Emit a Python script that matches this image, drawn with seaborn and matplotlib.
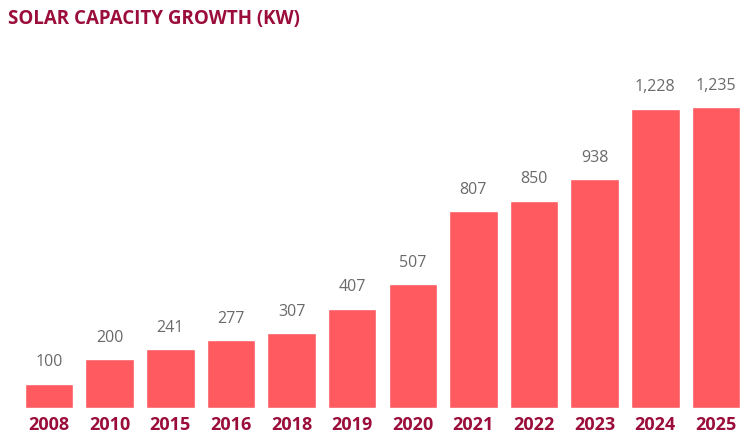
import matplotlib
matplotlib.use("Agg")
import matplotlib.pyplot as plt
import seaborn as sns
import pandas as pd

years = ["2008", "2010", "2015", "2016", "2018", "2019", "2020", "2021", "2022", "2023", "2024", "2025"]
capacity = [100, 200, 241, 277, 307, 407, 507, 807, 850, 938, 1228, 1235]

df = pd.DataFrame({"year": years, "kw": capacity})

sns.set_style("white")
plt.rcParams['font.family'] = ['Open Sans', 'DejaVu Sans']

fig = plt.figure(figsize=(7.5, 4.41), dpi=100)
ax = fig.add_axes([0.025, 0.075, 0.97, 0.834])
sns.barplot(data=df, x="year", y="kw", color="#FF5A5F", saturation=1, width=0.8, ax=ax)

for i, v in enumerate(capacity):
    ax.text(i, v + 55, f"{v:,}", ha="center", va="bottom", fontsize=11.5, color="#6a6a6a")

ax.set_ylim(0, 1510)
ax.set_xlim(-0.5, len(years) - 0.5)
ax.set_yticks([])
ax.set_xlabel("")
ax.set_ylabel("")
ax.tick_params(axis="x", length=0, pad=6)
for lbl in ax.get_xticklabels():
    lbl.set_fontweight("bold")
    lbl.set_fontsize(13)
    lbl.set_color("#9B0D3A")
sns.despine(ax=ax, left=True, bottom=True)

fig.text(0.011, 0.958, "SOLAR CAPACITY GROWTH (KW)", fontsize=13.5, fontweight="bold",
         color="#9B0D3A", ha="left", va="center")

fig.savefig("out.png", dpi=100)
